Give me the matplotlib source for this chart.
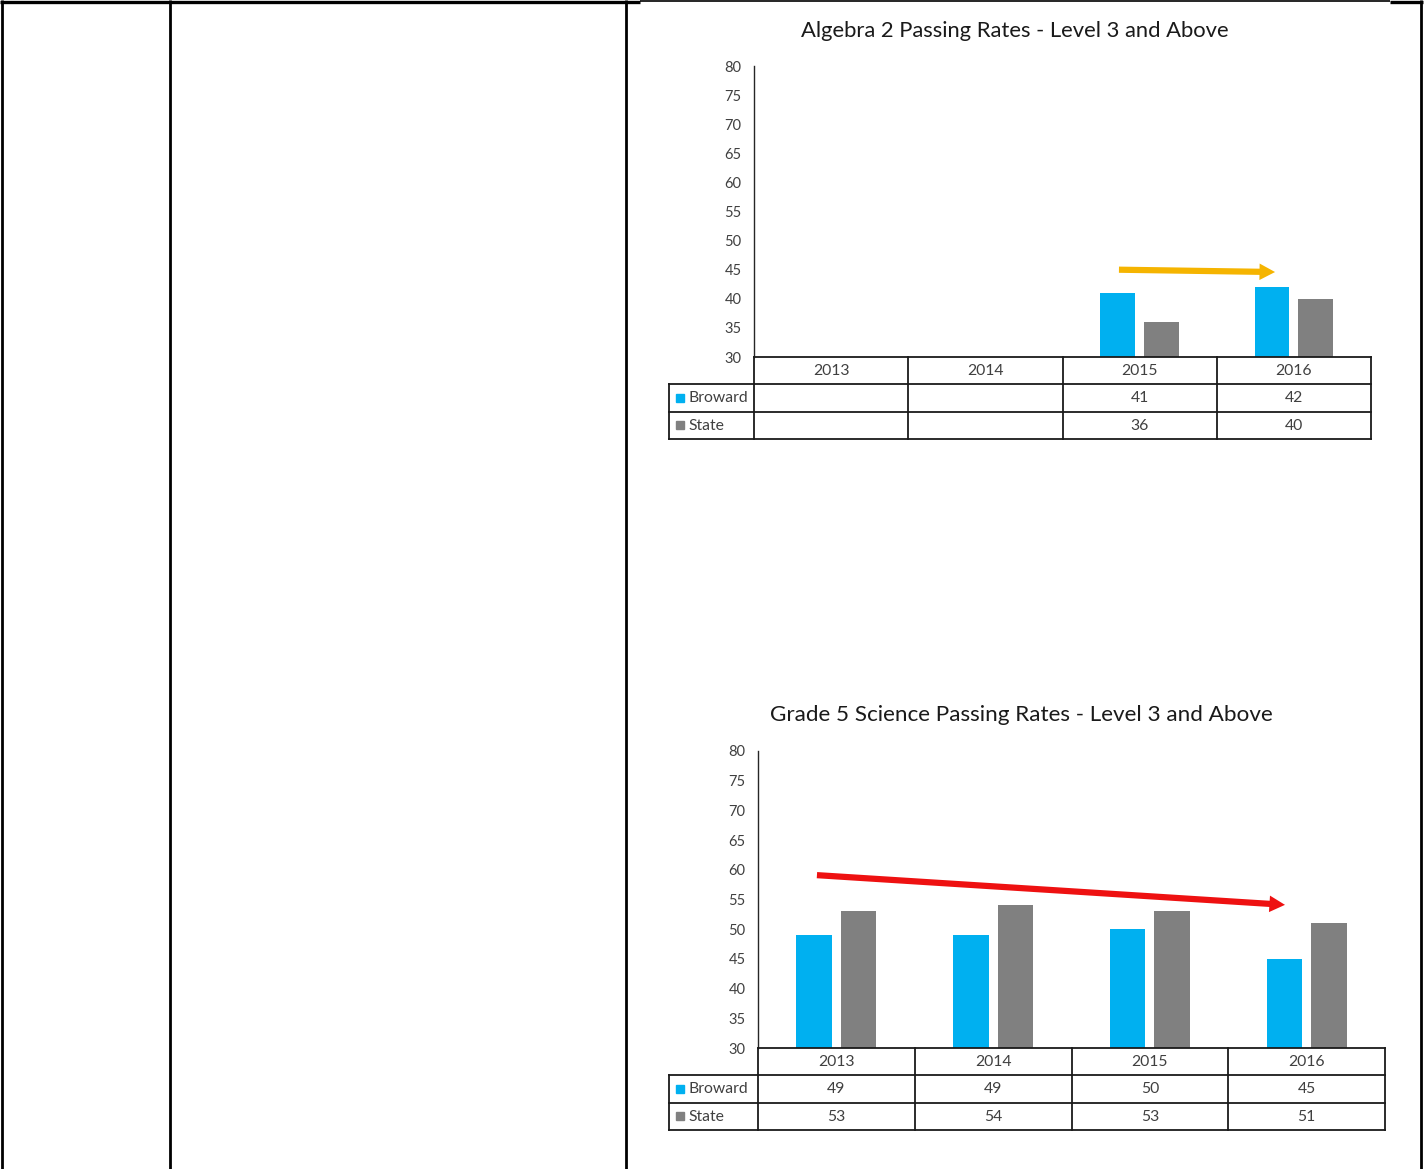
import numpy as np
import matplotlib
matplotlib.use("Agg")
import matplotlib.pyplot as plt
from matplotlib.lines import Line2D

# ---- data ----
years = ["2013", "2014", "2015", "2016"]
series_names = ["Broward", "State"]

alg2_broward = [np.nan, np.nan, 41, 42]
alg2_state = [np.nan, np.nan, 36, 40]

sci5_broward = [49, 49, 50, 45]
sci5_state = [53, 54, 53, 51]

yticks = list(range(30, 81, 5))

# ---- style ----
BLUE = "#00B0F0"
GRAY = "#808080"
TEXT = "#404040"
FONT = "Lato"

W, H = 1425, 1169
fig = plt.figure(figsize=(W / 100, H / 100), dpi=100)
plt.rcParams["font.family"] = [FONT, "DejaVu Sans"]


def rect(x0, y0, x1, y1):
    return [x0 / W, 1 - y1 / H, (x1 - x0) / W, (y1 - y0) / H]


def fline(xs, ys, lw):
    fig.add_artist(Line2D([x / W for x in xs], [1 - y / H for y in ys],
                          transform=fig.transFigure, color="black", lw=lw,
                          solid_capstyle="butt"))


# page frame of the surrounding document table
fline([0, 640], [1.5, 1.5], 2.4)
fline([640, 1390], [1.0, 1.0], 1.2)
fline([1390, 1423], [1.5, 1.5], 2.4)
for xv in (2, 170, 626, 1421):
    fline([xv, xv], [0, H], 2.0)


def chart(ax_px, tab_left, title, broward, state, arrow, arrow_color, title_xy, title_fs):
    x0, y0, x1, y1 = ax_px
    ax = fig.add_axes(rect(x0, y0, x1, y1))
    n = len(years)
    x = np.arange(n)
    bw = 0.225
    off = 0.142
    ax.bar(x - off, broward, bw, color=BLUE, zorder=2)
    ax.bar(x + off, state, bw, color=GRAY, zorder=2)
    ax.set_xlim(-0.5, n - 0.5)
    ax.set_ylim(30, 80)
    ax.set_yticks(yticks)
    ax.tick_params(axis="y", length=0, pad=9, labelsize=10.5, labelcolor=TEXT)
    ax.set_xticks([])
    for s in ("top", "right", "bottom"):
        ax.spines[s].set_visible(False)
    ax.spines["left"].set_color("#262626")
    ax.spines["left"].set_linewidth(1.0)
    ax.patch.set_alpha(0)

    # trend arrow
    (xa, ya), (xb, yb) = arrow
    ax.annotate("", xy=(xb, yb), xytext=(xa, ya),
                arrowprops=dict(arrowstyle="simple,head_length=0.8,head_width=0.85,tail_width=0.32",
                                mutation_scale=14, color=arrow_color, lw=0,
                                shrinkA=0, shrinkB=0),
                annotation_clip=False)

    tx, ty = title_xy
    fig.text(tx / W, 1 - ty / H, title, ha="center", va="center",
             fontsize=title_fs, color="#1a1a1a")

    # data table below the plot
    colw = (x1 - x0) / n
    left = -0.5 - (x0 - tab_left) / colw
    row_h = 27.3
    tab = fig.add_axes(rect(tab_left, y1, x1, y1 + 3 * row_h))
    tab.set_xlim(left, n - 0.5)
    tab.set_ylim(3, 0)
    tab.axis("off")
    lc = "#1a1a1a"
    lw = 1.3
    tab.plot([-0.5, n - 0.5], [0, 0], color=lc, lw=lw, clip_on=False)
    for r in (1, 2, 3):
        tab.plot([left, n - 0.5], [r, r], color=lc, lw=lw, clip_on=False)
    for c in np.arange(n + 1) - 0.5:
        tab.plot([c, c], [0, 3], color=lc, lw=lw, clip_on=False)
    tab.plot([left, left], [1, 3], color=lc, lw=lw, clip_on=False)

    fs = 11.3
    for i, yr in enumerate(years):
        tab.text(i, 0.52, yr, ha="center", va="center", fontsize=fs, color=TEXT)
    for r, (name, vals, col) in enumerate(zip(series_names, (broward, state), (BLUE, GRAY)), start=1):
        tab.plot([left + 11 / colw], [r + 0.5], marker="s", ms=5.5, color=col,
                 clip_on=False, ls="none")
        tab.text(left + 19 / colw, r + 0.52, name, ha="left", va="center",
                 fontsize=fs, color=TEXT)
        for i, v in enumerate(vals):
            if not np.isnan(v):
                tab.text(i, r + 0.52, f"{v:g}", ha="center", va="center",
                         fontsize=fs, color=TEXT)
    return ax


chart((754, 66, 1371, 357), 669, "Algebra 2 Passing Rates - Level 3 and Above",
      alg2_broward, alg2_state, ((1.866, 45.0), (2.878, 44.6)), "#F5B400", (1015, 31), 15.8)

chart((758, 751, 1385, 1048), 669, "Grade 5 Science Passing Rates - Level 3 and Above",
      sci5_broward, sci5_state, ((-0.124, 59.1), (2.862, 54.1)), "#EE1111", (1021, 715), 16.2)

fig.savefig("out.png", dpi=100)
